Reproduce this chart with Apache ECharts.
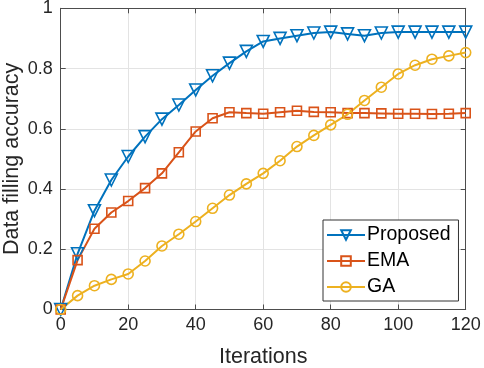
<!DOCTYPE html>
<html><head><meta charset="utf-8">
<script src="https://cdn.jsdelivr.net/npm/echarts@6/dist/echarts.min.js"></script>
<style>html,body{margin:0;padding:0;background:#fff}#c{width:484px;height:368px}</style>
</head><body><div id="c"></div>
<script>
var iterations = [0,5,10,15,20,25,30,35,40,45,50,55,60,65,70,75,80,85,90,95,100,105,110,115,120];
var proposed = [0,0.185,0.328,0.43,0.508,0.574,0.632,0.679,0.729,0.776,0.818,0.857,0.89,0.90,0.909,0.918,0.921,0.915,0.909,0.918,0.921,0.921,0.921,0.921,0.921];
var ema = [0,0.164,0.268,0.322,0.36,0.403,0.452,0.522,0.591,0.635,0.655,0.652,0.65,0.655,0.66,0.656,0.655,0.652,0.652,0.651,0.65,0.65,0.649,0.65,0.652];
var ga = [0,0.046,0.079,0.10,0.118,0.161,0.211,0.25,0.292,0.336,0.38,0.417,0.452,0.494,0.541,0.578,0.613,0.648,0.694,0.738,0.782,0.811,0.831,0.842,0.853];
var xTicks = [0,20,40,60,80,100,120];
var yTicks = [0,0.2,0.4,0.6,0.8,1];

function pairs(v){ return iterations.map(function(x,i){ return [x, v[i]]; }); }
var FONT = 'Liberation Sans, Arial, Helvetica, sans-serif';
var axisCol = '#4d4d4d';
var chart = echarts.init(document.getElementById('c'), null, {renderer:'canvas'});
function mk(name, data, color, symbol, size, rot){
  return {
    name: name, type: 'line', data: pairs(data), xAxisIndex: 0, yAxisIndex: 0,
    symbol: symbol, symbolSize: size, symbolRotate: rot || 0, showAllSymbol: true,
    lineStyle: {color: color, width: 2},
    itemStyle: {color: 'rgba(255,255,255,0)', borderColor: color, borderWidth: 1.6},
    emphasis: {disabled: true}, animation: false, z: 3
  };
}
chart.setOption({
  animation: false,
  backgroundColor: '#fff',
  grid: {left: 60.7, right: 18.3, top: 8.3, bottom: 58.5, containLabel: false, outerBoundsMode: 'none'},
  legend: {
    show: true, orient: 'vertical', left: 323, top: 220,
    padding: [5, 8, 4, 3], itemGap: 6, itemWidth: 38, itemHeight: 12,
    backgroundColor: '#fff', borderColor: '#333', borderWidth: 1,
    textStyle: {fontFamily: FONT, fontSize: 19.5, color: '#000', padding: [0,0,0,-3]},
    data: ['Proposed','EMA','GA']
  },
  xAxis: [{
    type: 'value', min: 0, max: 120, interval: 20, position: 'bottom',
    name: 'Iterations', nameLocation: 'middle', nameGap: 37, nameMoveOverlap: false,
    nameTextStyle: {fontFamily: FONT, fontSize: 21.5, color: '#262626'},
    axisLine: {show: true, onZero: false, lineStyle: {color: axisCol, width: 1}},
    axisTick: {show: true, inside: true, length: 5, lineStyle: {color: axisCol}},
    axisLabel: {fontFamily: FONT, fontSize: 18, color: '#262626', margin: 7,
      formatter: function(v){ return xTicks.indexOf(v) >= 0 ? String(v) : ''; }},
    splitLine: {show: true, lineStyle: {color: '#e3e3e3', width: 1}}
  },{
    type: 'value', min: 0, max: 120, interval: 20, position: 'top',
    axisLine: {show: true, onZero: false, lineStyle: {color: axisCol, width: 1}},
    axisTick: {show: true, inside: true, length: 5, lineStyle: {color: axisCol}},
    axisLabel: {show: false}, splitLine: {show: false}
  }],
  yAxis: [{
    type: 'value', min: 0, max: 1, interval: 0.2, position: 'left',
    name: 'Data filling accuracy', nameLocation: 'middle', nameGap: 38, nameMoveOverlap: false,
    nameTextStyle: {fontFamily: FONT, fontSize: 21.5, color: '#262626'},
    axisLine: {show: true, onZero: false, lineStyle: {color: axisCol, width: 1}},
    axisTick: {show: true, inside: true, length: 5, lineStyle: {color: axisCol}},
    axisLabel: {fontFamily: FONT, fontSize: 18, color: '#262626', margin: 8,
      formatter: function(v){ var r = Math.round(v*10)/10; return yTicks.indexOf(r) >= 0 ? String(r) : ''; }},
    splitLine: {show: true, lineStyle: {color: '#e3e3e3', width: 1}}
  },{
    type: 'value', min: 0, max: 1, interval: 0.2, position: 'right',
    axisLine: {show: true, onZero: false, lineStyle: {color: axisCol, width: 1}},
    axisTick: {show: true, inside: true, length: 5, lineStyle: {color: axisCol}},
    axisLabel: {show: false}, splitLine: {show: false}
  }],
  series: [
    mk('Proposed', proposed, '#0072BD', 'triangle', 12, 180),
    mk('EMA', ema, '#D95319', 'rect', 9),
    mk('GA', ga, '#EDB120', 'circle', 10)
  ]
});
</script></body></html>
